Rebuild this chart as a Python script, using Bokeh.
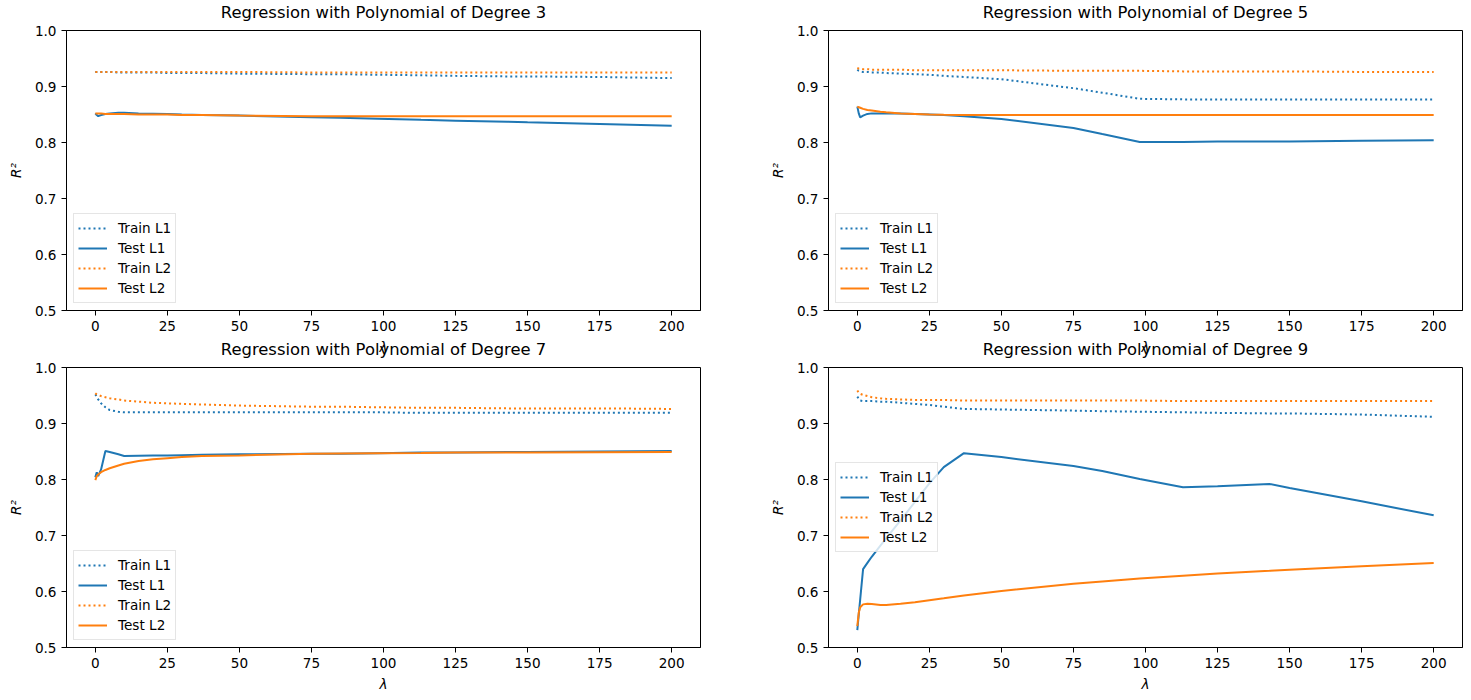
from bokeh.plotting import figure
from bokeh.models import Legend, LegendItem, FixedTicker, Range1d, PrintfTickFormatter
from bokeh.layouts import column, row
from bokeh.embed import file_html
from bokeh.resources import INLINE

# lambda grid
lam = [0, 0.5, 1, 2, 3.5, 5, 8, 10, 15, 20, 25, 30, 37, 50, 75, 85, 98, 113, 125, 143, 150, 175, 200]

# Degree 3
train_l1_3 = [0.926, 0.926, 0.926, 0.926, 0.926, 0.926, 0.925, 0.925, 0.925, 0.925, 0.924, 0.924, 0.924, 0.923, 0.922, 0.922, 0.921, 0.920, 0.919, 0.918, 0.918, 0.917, 0.915]
test_l1_3 = [0.852, 0.849, 0.847, 0.849, 0.851, 0.852, 0.853, 0.853, 0.852, 0.8515, 0.851, 0.850, 0.849, 0.848, 0.845, 0.844, 0.8425, 0.8405, 0.839, 0.837, 0.836, 0.833, 0.830]
train_l2_3 = [0.926, 0.926, 0.926, 0.926, 0.926, 0.926, 0.926, 0.926, 0.926, 0.926, 0.926, 0.926, 0.926, 0.926, 0.925, 0.925, 0.925, 0.925, 0.925, 0.925, 0.925, 0.925, 0.925]
test_l2_3 = [0.852, 0.852, 0.852, 0.852, 0.851, 0.851, 0.851, 0.851, 0.850, 0.850, 0.850, 0.849, 0.849, 0.848, 0.847, 0.847, 0.847, 0.847, 0.847, 0.847, 0.847, 0.847, 0.847]

# Degree 5
train_l1_5 = [0.930, 0.928, 0.927, 0.926, 0.926, 0.925, 0.925, 0.924, 0.923, 0.922, 0.921, 0.919, 0.917, 0.913, 0.897, 0.889, 0.878, 0.877, 0.877, 0.877, 0.877, 0.877, 0.877]
test_l1_5 = [0.864, 0.852, 0.845, 0.848, 0.851, 0.852, 0.852, 0.852, 0.852, 0.851, 0.850, 0.849, 0.847, 0.842, 0.826, 0.815, 0.801, 0.801, 0.802, 0.802, 0.802, 0.803, 0.804]
train_l2_5 = [0.933, 0.932, 0.932, 0.931, 0.931, 0.930, 0.930, 0.930, 0.930, 0.929, 0.929, 0.929, 0.929, 0.929, 0.928, 0.928, 0.928, 0.927, 0.927, 0.927, 0.927, 0.926, 0.926]
test_l2_5 = [0.864, 0.863, 0.862, 0.860, 0.858, 0.857, 0.855, 0.854, 0.852, 0.851, 0.850, 0.8495, 0.849, 0.849, 0.849, 0.849, 0.849, 0.849, 0.849, 0.849, 0.849, 0.849, 0.849]

# Degree 7
train_l1_7 = [0.952, 0.948, 0.943, 0.936, 0.929, 0.924, 0.921, 0.920, 0.920, 0.920, 0.920, 0.920, 0.920, 0.920, 0.920, 0.920, 0.920, 0.919, 0.919, 0.919, 0.919, 0.919, 0.919]
test_l1_7 = [0.804, 0.813, 0.806, 0.818, 0.851, 0.849, 0.845, 0.842, 0.8425, 0.843, 0.843, 0.8435, 0.844, 0.845, 0.846, 0.846, 0.847, 0.848, 0.848, 0.849, 0.849, 0.850, 0.851]
train_l2_7 = [0.954, 0.952, 0.951, 0.949, 0.947, 0.945, 0.943, 0.941, 0.939, 0.937, 0.936, 0.935, 0.934, 0.932, 0.930, 0.930, 0.929, 0.928, 0.928, 0.927, 0.927, 0.927, 0.926]
test_l2_7 = [0.799, 0.806, 0.809, 0.813, 0.817, 0.820, 0.825, 0.828, 0.833, 0.836, 0.838, 0.840, 0.842, 0.843, 0.846, 0.8465, 0.847, 0.8475, 0.848, 0.848, 0.848, 0.8485, 0.849]

# Degree 9
train_l1_9 = [0.948, 0.944, 0.941, 0.940, 0.940, 0.940, 0.939, 0.939, 0.937, 0.935, 0.933, 0.930, 0.926, 0.925, 0.923, 0.922, 0.921, 0.920, 0.919, 0.918, 0.918, 0.916, 0.912]
test_l1_9 = [0.531, 0.559, 0.586, 0.640, 0.651, 0.662, 0.682, 0.695, 0.727, 0.760, 0.793, 0.822, 0.847, 0.840, 0.824, 0.815, 0.801, 0.786, 0.788, 0.792, 0.785, 0.761, 0.736]
train_l2_9 = [0.959, 0.955, 0.953, 0.951, 0.949, 0.947, 0.945, 0.944, 0.943, 0.942, 0.942, 0.942, 0.941, 0.941, 0.941, 0.941, 0.941, 0.940, 0.940, 0.940, 0.940, 0.940, 0.940]
test_l2_9 = [0.538, 0.562, 0.572, 0.577, 0.578, 0.5775, 0.576, 0.576, 0.578, 0.581, 0.5845, 0.588, 0.593, 0.601, 0.614, 0.618, 0.623, 0.628, 0.632, 0.637, 0.639, 0.645, 0.651]

degrees = [3, 5, 7, 9]
series_names = ["Train L1", "Test L1", "Train L2", "Test L2"]
x_ticks = [0, 25, 50, 75, 100, 125, 150, 175, 200]
y_ticks = [0.5, 0.6, 0.7, 0.8, 0.9, 1.0]

data = {
    3: [train_l1_3, test_l1_3, train_l2_3, test_l2_3],
    5: [train_l1_5, test_l1_5, train_l2_5, test_l2_5],
    7: [train_l1_7, test_l1_7, train_l2_7, test_l2_7],
    9: [train_l1_9, test_l1_9, train_l2_9, test_l2_9],
}

BLUE = "#1f77b4"
ORANGE = "#ff7f0e"
styles = [(BLUE, "2 3"), (BLUE, None), (ORANGE, "2 3"), (ORANGE, None)]
FONT = "DejaVu Sans"
FS = "13.6px"


def make_panel(deg, width, height, bl, br, bt, bb, legend_loc, transparent=False):
    p = figure(width=width, height=height, output_backend="svg", toolbar_location=None,
               title="Regression with Polynomial of Degree %d" % deg,
               x_range=Range1d(-10, 210), y_range=Range1d(0.5, 1.0),
               min_border_left=bl, min_border_right=br, min_border_top=bt, min_border_bottom=bb)
    p.title.align = "center"
    p.title.text_font = FONT
    p.title.text_font_size = "16.4px"
    p.title.text_font_style = "normal"
    p.title.text_color = "black"
    p.title.standoff = 18
    p.xgrid.visible = False
    p.ygrid.visible = False
    p.outline_line_color = "black"
    p.outline_line_width = 1
    p.background_fill_color = "white"
    p.border_fill_color = "white"
    if transparent:
        p.border_fill_alpha = 0
    p.xaxis.ticker = FixedTicker(ticks=x_ticks)
    p.yaxis.ticker = FixedTicker(ticks=y_ticks)
    p.yaxis.formatter = PrintfTickFormatter(format="%.1f")
    p.xaxis.axis_label = "λ"
    p.yaxis.axis_label = "R²"
    p.xaxis.axis_label_standoff = 5
    p.yaxis.axis_label_standoff = 8
    for ax in (p.xaxis[0], p.yaxis[0]):
        ax.axis_line_color = "black"
        ax.major_tick_line_color = "black"
        ax.major_tick_out = 5
        ax.major_tick_in = 0
        ax.minor_tick_line_color = None
        ax.major_label_text_font = FONT
        ax.major_label_text_font_size = FS
        ax.major_label_text_color = "black"
        ax.major_label_standoff = 5
        ax.axis_label_text_font = FONT
        ax.axis_label_text_font_size = FS
        ax.axis_label_text_font_style = "italic"
        ax.axis_label_text_color = "black"
    items = []
    for name, vals, (col, dash) in zip(series_names, data[deg], styles):
        if dash:
            r = p.line(lam, vals, line_color=col, line_width=2, line_dash=dash)
        else:
            r = p.line(lam, vals, line_color=col, line_width=2)
        items.append(LegendItem(label=name, renderers=[r]))
    leg = Legend(items=items, location=legend_loc, margin=7, padding=4, spacing=0,
                 label_height=20, glyph_height=20, glyph_width=29, label_standoff=11,
                 label_text_font=FONT, label_text_font_size=FS, label_text_color="black",
                 border_line_color="#cccccc", border_line_width=1,
                 background_fill_color="white", background_fill_alpha=0.8)
    p.add_layout(leg, "center")
    return p


# top row: canvas starts 15px above the page, frame top at y=30
p1 = make_panel(3, 762, 375, 66, 62, 45, 50, "bottom_left")
p2 = make_panel(5, 709, 375, 66, 9, 45, 50, "bottom_left")
# bottom row: canvas starts at y=322, frame top at y=367
p3 = make_panel(7, 762, 378, 66, 62, 45, 53, "bottom_left", transparent=True)
p4 = make_panel(9, 709, 378, 66, 9, 45, 53, "left", transparent=True)

top_row = row(p1, p2, margin=(-15, 0, 0, 0))
bottom_row = row(p3, p4, margin=(-38, 0, 0, 0))
layout = column(top_row, bottom_row)
open("out.html", "w").write(file_html(layout, INLINE))
